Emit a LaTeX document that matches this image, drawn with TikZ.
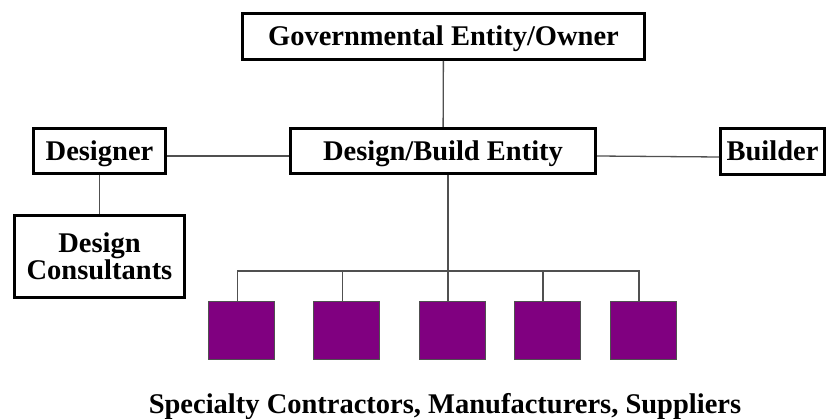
\documentclass[tikz,border=0pt]{standalone}
\usepackage{fontspec}
\setmainfont{Liberation Serif}
\usepackage{tikz}
\usetikzlibrary{arrows}

\definecolor{trade}{HTML}{800080}
\definecolor{linegray}{HTML}{505050}

\begin{document}
\begin{tikzpicture}[x=1pt,y=-1pt,-,
  font=\bfseries\fontsize{28.5}{26}\selectfont,
  box/.style={rectangle,draw,line width=3pt,inner sep=0pt,align=center},
  main node/.style={box,text height=18.5pt,text depth=0pt},
  trade node/.style={rectangle,draw=linegray,fill=trade,line width=1pt,
    minimum width=66pt,minimum height=58pt},
  link/.style={draw=linegray,line width=1.3pt}]

  \useasboundingbox (0,0) rectangle (827,419);

  \node[main node,minimum width=402pt,minimum height=46pt] (gov) at (443.5,36.5) {Governmental Entity/Owner};
  \node[main node,minimum width=305pt,minimum height=45pt] (db) at (443,151) {Design/Build Entity};
  \node[main node,minimum width=132pt,minimum height=45pt] (designer) at (99.5,151) {Designer};
  \node[main node,minimum width=104pt,minimum height=46pt] (builder) at (772.5,151.5) {Builder};
  \node[box,minimum width=170pt,minimum height=82pt] (consult) at (99.5,256.5) {Design\\Consultants};

  % trades under the design/build entity
  \node[trade node] (s1) at (241.5,330.5) {};
  \node[trade node] (s2) at (346.5,330.5) {};
  \node[trade node] (s3) at (452,330.5) {};
  \node[trade node] (s4) at (547,330.5) {};
  \node[trade node] (s5) at (643,330.5) {};
  \node[anchor=base] (trades) at (445,413) {Specialty Contractors, Manufacturers, Suppliers};

  \coordinate (bar) at (448,271);

  \path[link] (gov) edge (db)
    (designer) edge (consult);
  \draw[link] ([yshift=-5pt]designer.east) -- ([yshift=-5pt]db.west);
  \draw[link] ([yshift=-5pt]db.east) -- ([yshift=-5.5pt]builder.west);
  \draw[link] (db.south -| bar) -- (bar);
  \draw[link] ([xshift=-4pt]s1.north) |- (bar);
  \draw[link] ([xshift=-4pt]s2.north) |- (bar);
  \draw[link] ([xshift=-4pt]s3.north) |- (bar);
  \draw[link] ([xshift=-4pt]s4.north) |- (bar);
  \draw[link] ([xshift=-4pt]s5.north) |- (bar);

\end{tikzpicture}
\end{document}
